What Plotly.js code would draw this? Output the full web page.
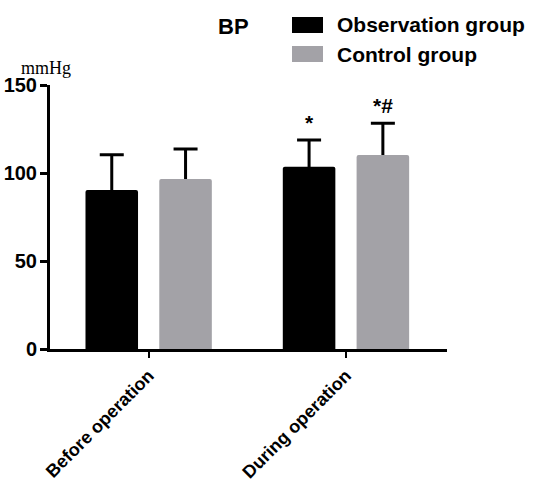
<!DOCTYPE html>
<html>
<head>
<meta charset="utf-8">
<script src="https://cdn.plot.ly/plotly-3.0.1.min.js"></script>
<style>html,body{margin:0;padding:0;background:#fff;}#chart{width:533px;height:482px;}</style>
</head>
<body>
<div id="chart"></div>
<script>
const categories = ["Before operation", "During operation"];
const seriesNames = ["Observation group", "Control group"];
const obsMean = [90.3, 103.6];
const obsSD = [20, 15.2];
const ctrlMean = [96.6, 110.2];
const ctrlSD = [17, 18];
const obsSig = ["", "*"];
const ctrlSig = ["", "*#"];
const yTicks = [0, 50, 100, 150];
const chartTitle = "BP";
const yUnit = "mmHg";

const colors = ["#000000", "#a3a2a7"];
const font = "Liberation Sans, Arial, sans-serif";

// grouped-bar geometry (category units)
const bargap = 0.252, slot = (1 - bargap) / 2;
const offsets = [-slot / 2, slot / 2];
const xRange = [-0.5, 1.512];

const series = [[obsMean, obsSD, obsSig], [ctrlMean, ctrlSD, ctrlSig]];

const traces = [];
// error bars drawn on the base subplot (under the bars, so only the upper half shows)
series.forEach(([m, s], k) => {
  traces.push({type: "scatter", mode: "markers", name: seriesNames[k] + " SD",
    x: categories.map((c, i) => i + offsets[k]), y: m,
    marker: {size: 2, opacity: 0}, showlegend: false, hoverinfo: "skip",
    error_y: {type: "data", array: s, visible: true, color: "#000", thickness: 3, width: 12},
    xaxis: "x", yaxis: "y"});
});
// bars on the overlay subplot
series.forEach(([m], k) => {
  traces.push({type: "bar", name: seriesNames[k], x: categories, y: m,
    marker: {color: colors[k], cornerradius: 2}, showlegend: false,
    xaxis: "x2", yaxis: "y2"});
});

const annotations = [];
series.forEach(([m, s, sig], k) => {
  sig.forEach((t, i) => {
    if (!t) return;
    annotations.push({x: i + offsets[k], y: m[i] + s[i] + 2.5, xref: "x", yref: "y", text: t,
      showarrow: false, yanchor: "bottom", font: {family: font, size: 21, color: "#000", weight: "bold"}});
  });
});

// plot area pixel mapping helpers (margins l=50, t=85, w=397, h=264)
const px = v => (v - 50) / 397, py = v => (349 - v) / 264;

annotations.push({x: px(20), y: py(79), xref: "paper", yref: "paper", xanchor: "left", yanchor: "bottom",
  text: yUnit, showarrow: false, font: {family: "Liberation Serif, Times New Roman, serif", size: 18, color: "#000"},
  borderpad: 0});
annotations.push({x: px(216), y: py(27), xref: "paper", yref: "paper", xanchor: "left", yanchor: "middle",
  text: chartTitle, showarrow: false, font: {family: font, size: 22, color: "#000", weight: "bold"}});

const shapes = [];
const legendRows = [25, 54];
seriesNames.forEach((n, i) => {
  const cy = legendRows[i];
  shapes.push({type: "rect", xref: "paper", yref: "paper", x0: px(292), x1: px(323), y0: py(cy - 8), y1: py(cy + 8),
    fillcolor: colors[i], line: {width: 0}});
  annotations.push({x: px(335), y: py(cy), xref: "paper", yref: "paper", xanchor: "left", yanchor: "middle",
    text: n, showarrow: false, font: {family: font, size: 21, color: "#000", weight: "bold"}});
});

const layout = {
  width: 533, height: 482,
  margin: {l: 50, r: 86, t: 85, b: 133},
  paper_bgcolor: "#fff", plot_bgcolor: "#fff",
  barmode: "group", bargap: bargap, bargroupgap: 0.288,
  showlegend: false,
  font: {family: font, color: "#000"},
  xaxis: {type: "linear", range: xRange, showline: false, showticklabels: false, ticks: "",
    showgrid: false, zeroline: false},
  yaxis: {range: [0, 150], showline: false, showticklabels: false, ticks: "", showgrid: false, zeroline: false},
  xaxis2: {type: "category", overlaying: "x", side: "bottom", range: xRange, showline: true, linewidth: 3,
    linecolor: "#000", ticks: "outside", ticklen: 6, tickwidth: 2, tickcolor: "#000", tickangle: -45,
    tickfont: {family: font, size: 18, color: "#000", weight: "bold"}, showgrid: false, zeroline: false},
  yaxis2: {overlaying: "y", side: "left", range: [0, 150], tickvals: yTicks, showline: true, linewidth: 3,
    linecolor: "#000", ticks: "outside", ticklen: 7, tickwidth: 3, tickcolor: "#000", ticklabelstandoff: -1,
    tickfont: {family: font, size: 20, color: "#000", weight: "bold"}, showgrid: false, zeroline: false},
  annotations: annotations,
  shapes: shapes
};

Plotly.newPlot("chart", traces, layout, {displayModeBar: false, staticPlot: true});
</script>
</body>
</html>
